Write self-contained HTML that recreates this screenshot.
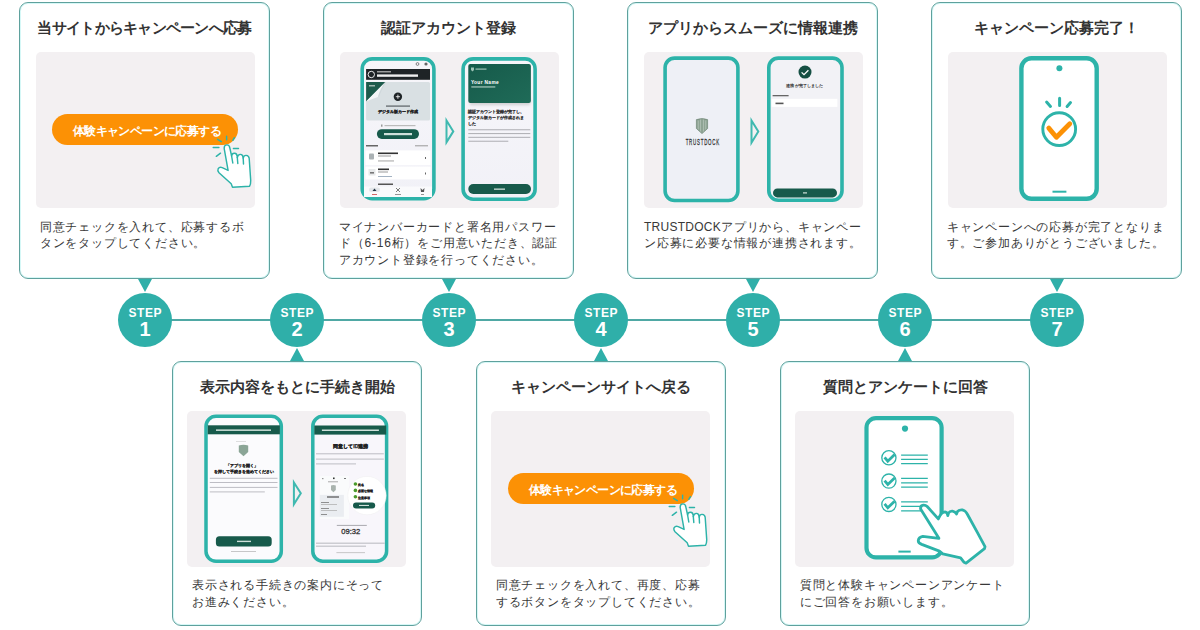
<!DOCTYPE html>
<html lang="ja">
<head>
<meta charset="utf-8">
<style>
*{box-sizing:border-box;margin:0;padding:0}
html,body{width:1200px;height:630px;overflow:hidden;background:#fff}
body{position:relative;font-family:"Liberation Sans",sans-serif;color:#333}
.abs{position:absolute}
.card{position:absolute;width:251px;border:1px solid #5fa19d;border-radius:9px;background:#fff;box-shadow:inset 0 0 0 1px #d6f8f7}
.top{top:2px;height:277px}
.bot{top:361px;height:265px;width:250px}
.ttl{position:absolute;left:0;right:0;text-align:center;font-weight:bold;font-size:15px;line-height:20px;color:#333;white-space:nowrap}
.txt{position:absolute;left:20px;font-size:12px;letter-spacing:0.8px;line-height:16.7px;color:#383838;white-space:nowrap}
.img{position:absolute;background:#f3f0f2;border-radius:5px;width:219px;height:156px}
.line{position:absolute;left:145px;width:912px;top:319px;height:2.2px;background:#4fa8a4}
.step{position:absolute;width:54px;height:54px;border-radius:50%;background:#2fafa9;top:293px;color:#fff;text-align:center;font-weight:bold}
.step .s{position:absolute;left:0;right:0;top:13.7px;font-size:12px;line-height:12px;letter-spacing:0.6px;text-indent:0.6px}
.step .n{position:absolute;left:0;right:0;top:25.7px;font-size:20px;line-height:20px}
.tri-d{position:absolute;width:0;height:0;border-left:7.5px solid transparent;border-right:7.5px solid transparent;border-top:13px solid #2fafa9;top:279px}
.tri-u{position:absolute;width:0;height:0;border-left:7px solid transparent;border-right:7px solid transparent;border-bottom:13px solid #2fafa9;top:348px}
.obtn{position:absolute;width:186px;height:31px;border-radius:15.5px;background:#fc9105;color:#fff;font-weight:bold;font-size:12px;letter-spacing:-0.6px;line-height:31px;text-align:center;white-space:nowrap}
.obtn span{position:relative;left:2px;top:2px}
svg.ov{position:absolute;left:0;top:0;width:1200px;height:630px}
</style>
</head>
<body>
<div class="line"></div>

<!-- top cards -->
<div class="card top" style="left:19px">
  <div class="ttl" style="top:14.8px;letter-spacing:-0.72px">当サイトからキャンペーンへ応募</div>
  <div class="txt" style="top:215.5px;left:19.8px">同意チェックを入れて、応募するボ<br>タンをタップしてください。</div>
</div>
<div class="card top" style="left:323px">
  <div class="ttl" style="top:14.8px">認証アカウント登録</div>
  <div class="txt" style="top:215.5px;left:14.8px">マイナンバーカードと署名用パスワー<br>ド（6-16桁）をご用意いただき、認証<br>アカウント登録を行ってください。</div>
</div>
<div class="card top" style="left:627px">
  <div class="ttl" style="top:14.8px">アプリからスムーズに情報連携</div>
  <div class="txt" style="top:215.5px;left:16px"><span style="letter-spacing:0.25px">TRUSTDOCK</span>アプリから、キャンペー<br>ン応募に必要な情報が連携されます。</div>
</div>
<div class="card top" style="left:931px">
  <div class="ttl" style="top:14.8px">キャンペーン応募完了！</div>
  <div class="txt" style="top:215.5px;left:14.8px">キャンペーンへの応募が完了となりま<br>す。ご参加ありがとうございました。</div>
</div>

<!-- bottom cards -->
<div class="card bot" style="left:172px">
  <div class="ttl" style="top:14.5px">表示内容をもとに手続き開始</div>
  <div class="txt" style="top:215.2px;left:19px">表示される手続きの案内にそって<br>お進みください。</div>
</div>
<div class="card bot" style="left:476px">
  <div class="ttl" style="top:14.5px">キャンペーンサイトへ戻る</div>
  <div class="txt" style="top:215.2px;left:18.8px">同意チェックを入れて、再度、応募<br>するボタンをタップしてください。</div>
</div>
<div class="card bot" style="left:780px">
  <div class="ttl" style="top:14.5px">質問とアンケートに回答</div>
  <div class="txt" style="top:215.2px;left:18.8px">質問と体験キャンペーンアンケート<br>にご回答をお願いします。</div>
</div>

<!-- gray image areas -->
<div class="img" style="left:36px;top:52px"></div>
<div class="img" style="left:340px;top:52px"></div>
<div class="img" style="left:644px;top:52px"></div>
<div class="img" style="left:948px;top:52px"></div>
<div class="img" style="left:187px;top:411px"></div>
<div class="img" style="left:491px;top:411px"></div>
<div class="img" style="left:795px;top:411px"></div>


<!-- card1 button -->
<div class="obtn" style="left:52px;top:114px"><span>体験キャンペーンに応募する</span></div>
<!-- card6 button -->
<div class="obtn" style="left:508px;top:473px"><span>体験キャンペーンに応募する</span></div>

<svg class="ov" viewBox="0 0 1200 630">
<g transform="translate(205,130)"><g fill="#fff" stroke="#2db3a9" stroke-width="1.45" stroke-linejoin="round" stroke-linecap="round">
<path d="M23.1 40.4 L19.2 18.6 Q18.9 15.2 21.8 14.9 Q24.4 14.8 24.8 17.8 L26.6 26 Q27 23 29.6 23.2 Q32 23.4 32.2 26.5 L32.3 27.5 Q33 24.3 35.4 24.4 Q37.9 24.6 38.1 27.6 L38.2 28 Q38.8 25.2 41.2 25.4 Q44 25.7 44.2 28.5 L45.7 50.4 Q45.8 54 44.6 56.2 L27.5 57.2 L26.2 53.8 L14 42.7 Q12.2 40.5 13.2 38.6 Q14.6 36.6 17.2 37.6 Z"/>
<path fill="none" d="M26.6 26 L27.8 33 M32.3 27.5 L32.8 33.5 M38.2 28 L38.5 34"/>
<path fill="none" d="M8.2 17.5 L13.9 17.5 M28.4 18.4 L33.5 18.4 M11.3 26.3 L15.5 23.2 M12.6 9.3 L16.3 11.6 M21.6 6.2 L21.6 9.8 M29.4 7.7 L27.8 10.3"/>
</g></g>
<g transform="translate(661,489)"><g fill="#fff" stroke="#2db3a9" stroke-width="1.45" stroke-linejoin="round" stroke-linecap="round">
<path d="M23.1 40.4 L19.2 18.6 Q18.9 15.2 21.8 14.9 Q24.4 14.8 24.8 17.8 L26.6 26 Q27 23 29.6 23.2 Q32 23.4 32.2 26.5 L32.3 27.5 Q33 24.3 35.4 24.4 Q37.9 24.6 38.1 27.6 L38.2 28 Q38.8 25.2 41.2 25.4 Q44 25.7 44.2 28.5 L45.7 50.4 Q45.8 54 44.6 56.2 L27.5 57.2 L26.2 53.8 L14 42.7 Q12.2 40.5 13.2 38.6 Q14.6 36.6 17.2 37.6 Z"/>
<path fill="none" d="M26.6 26 L27.8 33 M32.3 27.5 L32.8 33.5 M38.2 28 L38.5 34"/>
<path fill="none" d="M8.2 17.5 L13.9 17.5 M28.4 18.4 L33.5 18.4 M11.3 26.3 L15.5 23.2 M12.6 9.3 L16.3 11.6 M21.6 6.2 L21.6 9.8 M29.4 7.7 L27.8 10.3"/>
</g></g>

<!-- ===== card2 (step3) phones ===== -->
<defs>
<linearGradient id="scr" x1="0" y1="0" x2="0" y2="1"><stop offset="0" stop-color="#f7f6fa"/><stop offset="1" stop-color="#f1f1f7"/></linearGradient>
<linearGradient id="gcard" x1="0" y1="0" x2="1" y2="1"><stop offset="0" stop-color="#165a4a"/><stop offset="1" stop-color="#1f6b58"/></linearGradient>
<filter id="blur1" x="-20%" y="-20%" width="140%" height="160%"><feGaussianBlur stdDeviation="1.5"/></filter>
</defs>
<g>
<rect x="362.2" y="58.9" width="71.7" height="139.8" rx="10" fill="url(#scr)" stroke="#2db3a9" stroke-width="3.6"/>
<circle cx="417.5" cy="64" r="1.4" fill="none" stroke="#555" stroke-width="0.7"/>
<circle cx="426" cy="64" r="1.6" fill="#666"/>
<rect x="366.1" y="69" width="63.9" height="10.8" fill="#1e2326"/>
<circle cx="371.3" cy="74.5" r="3.2" fill="none" stroke="#fff" stroke-width="0.9"/>
<rect x="377" y="71.2" width="14" height="1.2" fill="#bbb"/>
<rect x="377" y="74.4" width="41" height="2.4" fill="#eee"/>
<rect x="366.1" y="82.1" width="63.9" height="38.4" rx="1.5" fill="#d9e0e3"/>
<path d="M366.1 82.1 L385.4 82.1 L366.1 101.4 Z" fill="#1d5a4b"/>
<path d="M385.4 82.1 Q380 88 378 97 Q372 99 366.1 101.4 L385.4 82.1 Z" fill="#f4f7f8"/>
<path d="M385.4 82.1 Q381 90 378.5 96.5" fill="none" stroke="#c8d2d5" stroke-width="0.6"/>
<rect x="369" y="85" width="6" height="1.5" fill="#9fb5ad"/>
<circle cx="397.9" cy="96.7" r="4.2" fill="#1e2326"/>
<path d="M397.9 94.6 V98.8 M395.8 96.7 H400" stroke="#fff" stroke-width="0.8"/>
<rect x="386" y="105.4" width="24" height="1.4" fill="#6c7276"/>
<text x="397.5" y="113.2" font-size="4.4" font-weight="bold" fill="#222" stroke="#222" stroke-width="0.25" text-anchor="middle">デジタル版カード作成</text>
<rect x="381" y="124.5" width="1.5" height="2.2" fill="#999"/>
<rect x="384.5" y="125" width="31" height="1.2" fill="#bbb"/>
<rect x="376.9" y="129.2" width="42.1" height="9.7" rx="4.85" fill="#175a4b"/>
<rect x="384" y="133" width="28" height="2.2" fill="#cfe0da"/>
<rect x="366" y="145" width="12" height="1.5" fill="#666"/>
<rect x="415" y="145.3" width="13" height="1" fill="#999"/>
<rect x="365.5" y="150.4" width="65" height="14.8" fill="#fff"/>
<rect x="369" y="153.5" width="5" height="6" rx="1" fill="#aab1b4"/>
<rect x="378" y="152.5" width="20" height="1.6" fill="#333"/>
<rect x="378" y="155.5" width="13" height="1" fill="#999"/>
<rect x="378" y="160.5" width="16" height="0.9" fill="#999"/>
<rect x="425" y="157" width="0.9" height="2" fill="#555"/>
<rect x="365.5" y="166.6" width="65" height="12.8" fill="#fff"/>
<rect x="368.5" y="169" width="7" height="6.5" fill="#e7e9ea"/>
<rect x="370" y="172" width="4" height="1.6" fill="#777"/>
<rect x="378" y="168.5" width="11" height="1.6" fill="#333"/>
<rect x="378" y="171.5" width="10" height="1" fill="#999"/>
<rect x="378" y="176" width="14" height="0.9" fill="#9ab"/>
<rect x="425" y="172.5" width="0.9" height="2" fill="#555"/>
<rect x="378" y="183.5" width="15" height="1.5" fill="#555"/>
<rect x="364" y="186.5" width="68" height="10.5" fill="#fafafc"/>
<rect x="369" y="187.5" width="11" height="4.5" rx="2.25" fill="#e3e6ea"/>
<path d="M372.5 191 L374.5 188.5 L376.5 191 Z" fill="#234"/>
<rect x="372" y="194" width="5" height="0.9" fill="#c55"/>
<path d="M396 188 L400 192 M400 188 L396 192" stroke="#444" stroke-width="0.7"/>
<rect x="395" y="194" width="6" height="0.9" fill="#888"/>
<path d="M420.5 188 L422.5 190 L424.5 188 L424 192 L421 192 Z" fill="#555"/>
<rect x="421" y="194" width="3" height="0.9" fill="#888"/>
<!-- arrow -->
<path d="M446.5 120.5 L453.3 131.4 L446.5 142.3 Z" fill="none" stroke="#3fb9b0" stroke-width="2" stroke-linejoin="miter"/>
<!-- phone2 -->
<rect x="463.1" y="58.9" width="72" height="140.3" rx="10" fill="url(#scr)" stroke="#2db3a9" stroke-width="3.6"/>
<rect x="470" y="98" width="60" height="7" fill="#888" opacity="0.35" filter="url(#blur1)"/>
<rect x="468.3" y="64" width="62.6" height="39" rx="2" fill="url(#gcard)"/>
<path d="M471 67.5 h3 v2.5 l-1.5 1.5 l-1.5 -1.5 Z" fill="#9ec2b5"/>
<rect x="475.5" y="68.5" width="11" height="1.2" fill="#9ec2b5"/>
<text x="470.9" y="83.7" font-size="4.8" font-weight="bold" fill="#fff" font-family="Liberation Sans" letter-spacing="0.35">Your Name</text>
<rect x="471.3" y="86.4" width="24" height="1.1" fill="#b7d1c8"/>
<text x="468.3" y="113.4" font-size="4.2" font-weight="bold" fill="#333" stroke="#333" stroke-width="0.08">認証アカウント登録が完了し、</text>
<text x="468.3" y="118.7" font-size="4.2" font-weight="bold" fill="#333" stroke="#333" stroke-width="0.08">デジタル版カードが作成されま</text>
<text x="468.3" y="124.6" font-size="4.2" font-weight="bold" fill="#333" stroke="#333" stroke-width="0.08">した</text>
<rect x="468.3" y="129.2" width="62" height="1.1" fill="#b3b3b8"/>
<rect x="468.3" y="133" width="62" height="1.1" fill="#b3b3b8"/>
<rect x="468.3" y="136.8" width="62" height="1.1" fill="#b3b3b8"/>
<rect x="468.3" y="140.7" width="40" height="1.1" fill="#b3b3b8"/>
<rect x="468.3" y="184" width="62.7" height="10" rx="5" fill="#175a4b"/>
<rect x="494" y="188.5" width="11" height="1.3" fill="#cfe0da"/>
</g>

<!-- ===== card3 (step5) phones ===== -->
<g>
<rect x="665.1" y="58.1" width="72.8" height="142.4" rx="9.5" fill="#eef0f6" stroke="#2db3a9" stroke-width="3.6"/>
<path d="M696.4 119.6 Q702 117.6 707.6 119.6 L707.6 128.5 L702 133.6 L696.4 128.5 Z" fill="#8ea494" stroke="#6f8576" stroke-width="0.7"/>
<path d="M698.3 120.5 V129.5 M700.5 119.5 V131.5 M703.5 119.5 V131.5 M705.7 120.5 V129.5" stroke="#c8d5cc" stroke-width="0.5"/>
<text x="0" y="145" font-size="9.8" fill="#333" stroke="#333" stroke-width="0.3" text-anchor="middle" font-family="Liberation Sans" letter-spacing="1.7" transform="translate(702.8 0) scale(0.45 1)">TRUSTDOCK</text>
<path d="M751.5 120.5 L758.3 131.6 L751.5 142.7 Z" fill="none" stroke="#3fb9b0" stroke-width="2"/>
<rect x="768.8" y="58.1" width="73.2" height="142.1" rx="9.5" fill="#f2f2f6" stroke="#2db3a9" stroke-width="3.6"/>
<circle cx="805" cy="72.1" r="6.5" fill="#154f43"/>
<path d="M801.6 72.4 L804 74.7 L808.4 70.2" fill="none" stroke="#fff" stroke-width="1.3"/>
<text x="804.8" y="87.2" font-size="4" fill="#333" stroke="#333" stroke-width="0.15" text-anchor="middle" letter-spacing="0.1">連携が完了しました</text>
<rect x="772.6" y="95" width="16" height="1.3" fill="#666"/>
<rect x="771.7" y="98.8" width="65.7" height="8.1" fill="#fff"/>
<rect x="775.5" y="102.6" width="8" height="1.6" fill="#555"/>
<rect x="773" y="188.5" width="64" height="8.9" rx="4.4" fill="#175a4b"/>
<rect x="803" y="192.3" width="4" height="1.2" fill="#cfe0da"/>
</g>

<!-- ===== card5 (step2) phones ===== -->
<g>
<rect x="206" y="416.3" width="75.3" height="145" rx="10" fill="#fbfbfd" stroke="#2db3a9" stroke-width="3.5"/>
<rect x="207.7" y="425.3" width="72.2" height="9" fill="#175a4b"/>
<rect x="216" y="429.4" width="55" height="1.5" fill="#cfe0da"/>
<rect x="236" y="441" width="10" height="0.6" fill="#ccc"/>
<path d="M238.8 445.5 Q243.5 443.8 248.2 445.5 L248.2 452 L243.5 456.3 L238.8 452 Z" fill="#8ba596"/>
<text x="242.3" y="467.4" font-size="3.7" font-weight="bold" fill="#222" stroke="#222" stroke-width="0.2" text-anchor="middle">「アプリを開く」</text>
<text x="244" y="472.9" font-size="3.8" font-weight="bold" fill="#222" stroke="#222" stroke-width="0.2" text-anchor="middle">を押して手続きを進めてください</text>
<rect x="209.8" y="477.8" width="67.7" height="1" fill="#bdbdc4"/>
<rect x="209.8" y="482" width="67.7" height="1" fill="#bdbdc4"/>
<rect x="209.8" y="486.9" width="67.7" height="1" fill="#bdbdc4"/>
<rect x="209.8" y="491.4" width="55" height="1" fill="#bdbdc4"/>
<rect x="215.9" y="536.3" width="55.8" height="10.2" rx="3.5" fill="#175a4b"/>
<rect x="237" y="540.7" width="14" height="1.4" fill="#cfe0da"/>
<rect x="231" y="551" width="25" height="0.8" fill="#bbb"/>
<path d="M293.9 482.5 L300.8 493.3 L293.9 504.2 Z" fill="none" stroke="#3fb9b0" stroke-width="2"/>
<rect x="312.8" y="416.3" width="73.8" height="144.9" rx="10" fill="#f8f6fb" stroke="#2db3a9" stroke-width="3.5"/>
<rect x="314.3" y="425.5" width="71.9" height="9.1" fill="#175a4b"/>
<rect x="321.9" y="429.5" width="57" height="1.5" fill="#cfe0da"/>
<text x="350.8" y="447.6" font-size="5.2" font-weight="bold" fill="#222" stroke="#222" stroke-width="0.25" text-anchor="middle">同意してID連携</text>
<rect x="316" y="453.3" width="67.8" height="1" fill="#bdbdc4"/>
<rect x="316" y="458.6" width="67.8" height="1" fill="#bdbdc4"/>
<rect x="316" y="463.4" width="40" height="1" fill="#bdbdc4"/>
<rect x="319.8" y="476" width="29.4" height="43" fill="#fafbfc"/>
<rect x="322" y="478" width="1.5" height="1.2" fill="#999"/>
<rect x="333" y="477.5" width="1.6" height="1.6" fill="#333"/>
<rect x="344" y="478" width="2" height="0.8" fill="#555"/>
<rect x="328" y="481.5" width="10" height="0.7" fill="#888"/>
<path d="M331 485.5 Q333.4 484.6 335.8 485.5 L335.8 490 L333.4 492.3 L331 490 Z" fill="#a9b3ae"/>
<rect x="319.8" y="494.9" width="24.1" height="21.9" fill="#eaedf1"/>
<rect x="327" y="496.5" width="12" height="1" fill="#333"/>
<rect x="321" y="502" width="8" height="0.7" fill="#666"/>
<rect x="321" y="504" width="16" height="0.7" fill="#aaa"/>
<rect x="321" y="508" width="8" height="0.7" fill="#666"/>
<rect x="321" y="510" width="16" height="0.7" fill="#aaa"/>
<rect x="321" y="514" width="6" height="0.7" fill="#666"/>
<circle cx="367" cy="495.6" r="19.2" fill="#fff" stroke="#eee" stroke-width="0.5"/>
<circle cx="355.4" cy="484" r="1.8" fill="#4a9a2c"/>
<circle cx="355.4" cy="490.4" r="1.8" fill="#4a9a2c"/>
<circle cx="355.4" cy="496.8" r="1.8" fill="#4a9a2c"/>
<text x="357.6" y="485.8" font-size="3.4" font-weight="bold" fill="#222" stroke="#222" stroke-width="0.15">氏名</text>
<text x="357.6" y="492.2" font-size="3.4" font-weight="bold" fill="#222" stroke="#222" stroke-width="0.15">必要な情報</text>
<text x="357.6" y="498.6" font-size="3.4" font-weight="bold" fill="#222" stroke="#222" stroke-width="0.15">注意事項</text>
<rect x="353" y="502.4" width="22.2" height="6.1" rx="3" fill="#175a4b"/>
<rect x="359" y="504.9" width="10" height="1.1" fill="#cfe0da"/>
<rect x="336.8" y="524.9" width="30" height="1" fill="#a9a9ae"/>
<text x="350.8" y="534.4" font-size="7.6" fill="#333" stroke="#333" stroke-width="0.3" text-anchor="middle" font-family="Liberation Sans">09:32</text>
<rect x="316" y="542.7" width="68.7" height="0.9" fill="#b0b0b6"/>
<rect x="316" y="545.7" width="50" height="0.9" fill="#b0b0b6"/>
<rect x="336.4" y="552.3" width="28.6" height="0.8" fill="#bbb"/>
</g>

<!-- ===== card7 (step6) phone + hand ===== -->
<g>
<rect x="866.5" y="418.1" width="75.1" height="139.3" rx="9.5" fill="#fff" stroke="#2db3a9" stroke-width="4.2"/>
<circle cx="905" cy="428.6" r="3.1" fill="#2db3a9"/>
<line x1="898.4" y1="551.6" x2="910.7" y2="551.6" stroke="#2db3a9" stroke-width="2"/>
<g fill="none" stroke="#2db3a9">
<circle cx="888.9" cy="457.8" r="7.1" stroke-width="1.3"/>
<circle cx="888.9" cy="481.1" r="7.1" stroke-width="1.3"/>
<circle cx="888.9" cy="504.4" r="7.1" stroke-width="1.3"/>
<path d="M884.6 457.3 L887.8 461.2 L894.6 454.6 M884.6 480.6 L887.8 484.5 L894.6 477.9 M884.6 503.9 L887.8 507.8 L894.6 501.2" stroke-width="2.8" stroke-linejoin="miter"/>
<path d="M901.1 455.2 H927.8 M901.1 459.4 H927.8 M901.1 463.7 H927.8 M901.1 478.3 H927.8 M901.1 482.8 H927.8 M901.1 487.2 H927.8 M901.1 501.9 H927.8 M901.1 506.3 H927.8 M901.1 510.8 H927.8" stroke-width="1.2"/>
</g>
<path d="M920.6 508.9 Q920.3 505.6 923.3 505.2 Q925.6 505 927.2 506.5 L938.3 518.9 L940 515.6 Q942 512 945 511.8 Q947.3 512 947.8 515.5 L948.5 513 Q950 510.8 952.5 511.1 Q955.3 511.5 956.5 514 L957.5 511.5 Q959.5 509.5 962.8 510 Q966 511 967.5 514.5 L977.2 532.2 L985 546.7 L984.5 548.6 L966.1 563.1 L963.9 562.2 L960.6 557.8 L942.8 553.9 L939.4 551.1 L921.7 544.4 Q918 542.8 918.3 540.5 Q918.7 537 922.8 536.3 L938.9 538.3 Z" fill="#fff" stroke="#2db3a9" stroke-width="2.8" stroke-linejoin="round"/>
</g>

<!-- card4 phone -->
<g stroke="#2db3a9" fill="none">
<rect x="1021.4" y="58.3" width="75.3" height="140.5" rx="10" fill="#fff" stroke-width="4.4"/>
<circle cx="1059.4" cy="68.3" r="3" fill="#2db3a9" stroke="none"/>
<line x1="1052.5" y1="191.7" x2="1066.4" y2="191.7" stroke-width="2"/>
<circle cx="1059.2" cy="129.1" r="16.4" stroke-width="2.9" fill="#fff"/>
<path d="M1059.6 98.3 L1059.6 105.5 M1046.6 102.1 L1050.5 106.5 M1070.5 102.6 L1067.1 106.5" stroke-width="3" stroke-linecap="round"/>
<path d="M1048.8 128.1 L1056.4 137.3 L1069.8 123.8" stroke="#fc9105" stroke-width="4.8" stroke-linecap="round" stroke-linejoin="round"/>
</g>
</svg>

<!-- triangles -->
<div class="tri-d" style="left:137.5px"></div>
<div class="tri-d" style="left:441.5px"></div>
<div class="tri-d" style="left:745.5px"></div>
<div class="tri-d" style="left:1049.5px"></div>
<div class="tri-u" style="left:290px"></div>
<div class="tri-u" style="left:594px"></div>
<div class="tri-u" style="left:898px"></div>

<!-- steps -->
<div class="step" style="left:118px"><div class="s">STEP</div><div class="n">1</div></div>
<div class="step" style="left:270px"><div class="s">STEP</div><div class="n">2</div></div>
<div class="step" style="left:422px"><div class="s">STEP</div><div class="n">3</div></div>
<div class="step" style="left:574px"><div class="s">STEP</div><div class="n">4</div></div>
<div class="step" style="left:726px"><div class="s">STEP</div><div class="n">5</div></div>
<div class="step" style="left:878px"><div class="s">STEP</div><div class="n">6</div></div>
<div class="step" style="left:1030px"><div class="s">STEP</div><div class="n">7</div></div>

</body>
</html>
